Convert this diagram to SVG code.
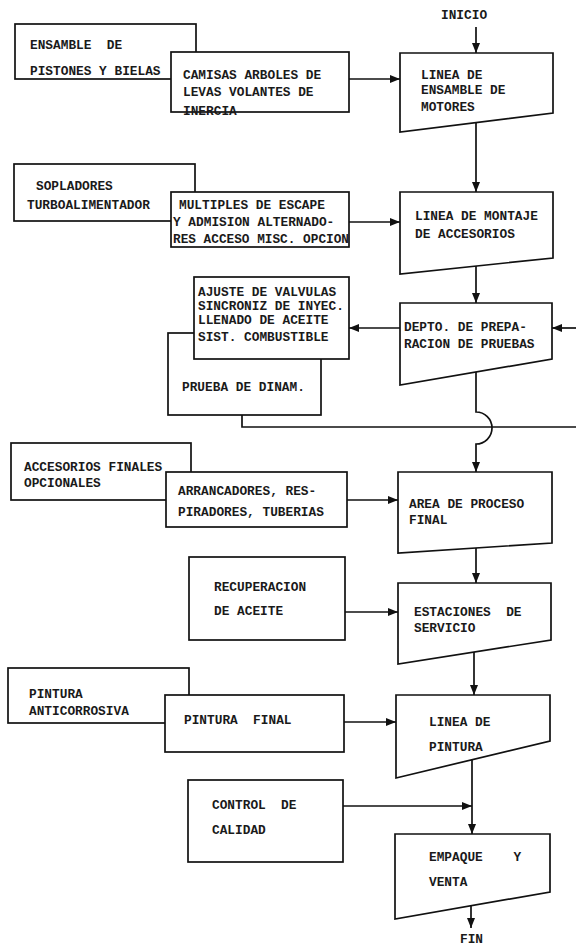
<svg xmlns="http://www.w3.org/2000/svg" width="576" height="946" viewBox="0 0 576 946">
<style>
  .bx { fill: #fff; stroke: #111; stroke-width: 1.7; }
  .t { font-family: "Liberation Mono", "DejaVu Sans Mono", monospace; font-size: 12.8px; font-weight: bold; fill: #1a1a1a; white-space: pre; }
  .c { fill: none; stroke: #111; stroke-width: 1.7; }
</style>
<defs>
  <marker id="ah" markerUnits="userSpaceOnUse" markerWidth="10" markerHeight="8" refX="10" refY="4" orient="auto">
    <path d="M0,0 L10,4 L0,8 z" fill="#111"/>
  </marker>
</defs>
<rect width="576" height="946" fill="#fff"/>

<g id="inicio"><text class="t" x="441" y="19">INICIO</text></g>

<g id="n-ensamble-pistones">
  <rect class="bx" x="15" y="24" width="181" height="55"/>
  <text class="t" x="30" y="49">ENSAMBLE  DE</text>
  <text class="t" x="30" y="75">PISTONES Y BIELAS</text>
</g>
<g id="n-camisas">
  <rect class="bx" x="171" y="52" width="178" height="60"/>
  <text class="t" x="183" y="79">CAMISAS ARBOLES DE</text>
  <text class="t" x="183" y="96">LEVAS VOLANTES DE</text>
  <text class="t" x="183" y="115">INERCIA</text>
</g>
<g id="n-linea-ensamble">
  <polygon class="bx" points="400,53 553,53 553,113 400,132"/>
  <text class="t" x="421" y="79">LINEA DE</text>
  <text class="t" x="421" y="94">ENSAMBLE DE</text>
  <text class="t" x="421" y="111">MOTORES</text>
</g>

<g id="n-sopladores">
  <rect class="bx" x="14" y="164" width="181" height="57"/>
  <text class="t" x="36" y="190">SOPLADORES</text>
  <text class="t" x="27" y="209">TURBOALIMENTADOR</text>
</g>
<g id="n-multiples">
  <rect class="bx" x="171" y="192" width="178" height="55"/>
  <text class="t" x="179" y="209">MULTIPLES DE ESCAPE</text>
  <text class="t" x="173" y="226">Y ADMISION ALTERNADO-</text>
  <text class="t" x="173" y="243" textLength="176" lengthAdjust="spacingAndGlyphs">RES ACCESO MISC. OPCION</text>
</g>
<g id="n-linea-montaje">
  <polygon class="bx" points="400,192 553,192 553,258 400,274"/>
  <text class="t" x="415" y="220">LINEA DE MONTAJE</text>
  <text class="t" x="415" y="238">DE ACCESORIOS</text>
</g>

<g id="n-prueba-dinam">
  <rect class="bx" x="168" y="333" width="153" height="82"/>
  <text class="t" x="182" y="391">PRUEBA DE DINAM.</text>
</g>
<g id="n-ajuste">
  <rect class="bx" x="194" y="277" width="155" height="82"/>
  <text class="t" x="198" y="296">AJUSTE DE VALVULAS</text>
  <text class="t" x="198" y="310">SINCRONIZ DE INYEC.</text>
  <text class="t" x="198" y="324">LLENADO DE ACEITE</text>
  <text class="t" x="198" y="341">SIST. COMBUSTIBLE</text>
</g>
<g id="n-depto">
  <polygon class="bx" points="400,303 552,303 552,359 400,385"/>
  <text class="t" x="404" y="331">DEPTO. DE PREPA-</text>
  <text class="t" x="404" y="348">RACION DE PRUEBAS</text>
</g>

<g id="n-accesorios-finales">
  <rect class="bx" x="11" y="443" width="180" height="57"/>
  <text class="t" x="24" y="471">ACCESORIOS FINALES</text>
  <text class="t" x="24" y="487">OPCIONALES</text>
</g>
<g id="n-arrancadores">
  <rect class="bx" x="166" y="472" width="181" height="55"/>
  <text class="t" x="178" y="495">ARRANCADORES, RES-</text>
  <text class="t" x="178" y="516">PIRADORES, TUBERIAS</text>
</g>
<g id="n-area-proceso">
  <polygon class="bx" points="398,472 552,472 552,543 398,553"/>
  <text class="t" x="409" y="508">AREA DE PROCESO</text>
  <text class="t" x="409" y="524">FINAL</text>
</g>

<g id="n-recuperacion">
  <rect class="bx" x="189" y="557" width="156" height="83"/>
  <text class="t" x="214" y="591">RECUPERACION</text>
  <text class="t" x="214" y="615">DE ACEITE</text>
</g>
<g id="n-estaciones">
  <polygon class="bx" points="398,583 551,583 551,640 398,664"/>
  <text class="t" x="414" y="616">ESTACIONES  DE</text>
  <text class="t" x="414" y="632">SERVICIO</text>
</g>

<g id="n-pintura-anticorrosiva">
  <rect class="bx" x="8" y="668" width="181" height="55"/>
  <text class="t" x="29" y="698">PINTURA</text>
  <text class="t" x="29" y="715">ANTICORROSIVA</text>
</g>
<g id="n-pintura-final">
  <rect class="bx" x="165" y="695" width="179" height="57"/>
  <text class="t" x="184" y="724">PINTURA  FINAL</text>
</g>
<g id="n-linea-pintura">
  <polygon class="bx" points="396,695 550,695 550,741 396,778"/>
  <text class="t" x="429" y="726">LINEA DE</text>
  <text class="t" x="429" y="751">PINTURA</text>
</g>

<g id="n-control">
  <rect class="bx" x="188" y="780" width="155" height="82"/>
  <text class="t" x="212" y="809">CONTROL  DE</text>
  <text class="t" x="212" y="834">CALIDAD</text>
</g>
<g id="n-empaque">
  <polygon class="bx" points="395,834 550,834 550,892 395,919"/>
  <text class="t" x="429" y="861">EMPAQUE    Y</text>
  <text class="t" x="429" y="886">VENTA</text>
</g>

<g id="fin"><text class="t" x="460" y="943">FIN</text></g>

<g id="connectors">
  <line class="c" x1="476" y1="27" x2="476" y2="53" marker-end="url(#ah)"/>
  <line class="c" x1="349" y1="79" x2="400" y2="79" marker-end="url(#ah)"/>
  <line class="c" x1="476" y1="123" x2="476" y2="192" marker-end="url(#ah)"/>
  <line class="c" x1="349" y1="222" x2="400" y2="222" marker-end="url(#ah)"/>
  <line class="c" x1="476" y1="266" x2="476" y2="303" marker-end="url(#ah)"/>
  <line class="c" x1="400" y1="328" x2="349" y2="328" marker-end="url(#ah)"/>
  <line class="c" x1="576" y1="328" x2="552" y2="328" marker-end="url(#ah)"/>
  <path class="c" d="M242,415 L242,427 L576,427"/>
  <path class="c" d="M476,372 L476,412 A16,16 0 0 1 476,444 L476,472" marker-end="url(#ah)"/>
  <line class="c" x1="347" y1="500" x2="398" y2="500" marker-end="url(#ah)"/>
  <line class="c" x1="476" y1="548" x2="476" y2="583" marker-end="url(#ah)"/>
  <line class="c" x1="345" y1="612" x2="398" y2="612" marker-end="url(#ah)"/>
  <line class="c" x1="474" y1="652" x2="474" y2="695" marker-end="url(#ah)"/>
  <line class="c" x1="344" y1="722" x2="396" y2="722" marker-end="url(#ah)"/>
  <line class="c" x1="472" y1="760" x2="472" y2="834" marker-end="url(#ah)"/>
  <line class="c" x1="343" y1="806" x2="472" y2="806" marker-end="url(#ah)"/>
  <line class="c" x1="471" y1="906" x2="471" y2="928" marker-end="url(#ah)"/>
</g>
</svg>
